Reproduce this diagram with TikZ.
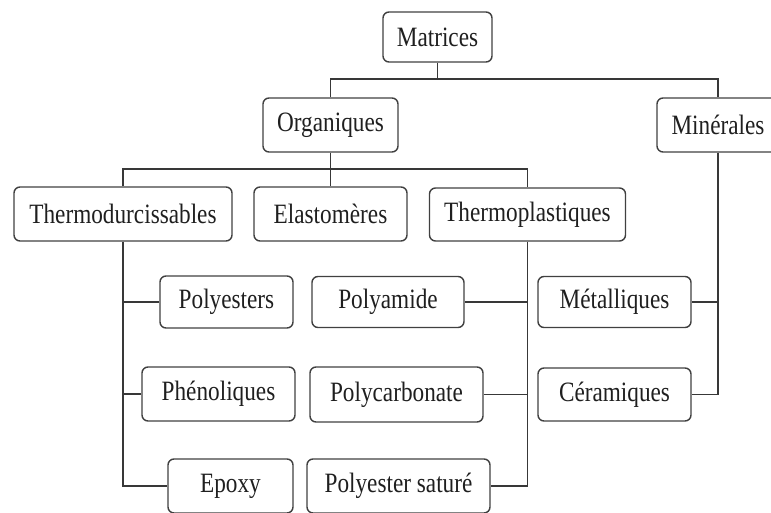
\documentclass[tikz,border=0pt]{standalone}
\usepackage{fontspec}
\setmainfont[FakeStretch=0.83]{Liberation Serif}
\begin{document}
\begin{tikzpicture}[x=1pt,y=-1pt,
  box/.style={draw=black!75, line width=1.4pt, rounded corners=6pt, inner sep=0pt,
    text=black!88, font=\fontsize{28}{30}\selectfont, anchor=center},
  link/.style={draw=black!78, line width=1.8pt}]
\useasboundingbox (0,0) rectangle (771,513);
\clip (0,0) rectangle (771,513);
\node[box, minimum width=109pt, minimum height=50pt] (mat) at (437.5,37) {Matrices};
\node[box, minimum width=135pt, minimum height=54pt] (org) at (330.5,125) {Organiques};
\node[box, minimum width=122pt, minimum height=54pt] (min) at (718,125) {Minérales};
\node[box, minimum width=218pt, minimum height=54pt] (thd) at (123,214) {Thermodurcissables};
\node[box, minimum width=153pt, minimum height=54pt] (ela) at (330.5,214) {Elastomères};
\node[box, minimum width=196pt, minimum height=53pt] (thp) at (527.5,214.5) {Thermoplastiques};
\node[box, minimum width=133pt, minimum height=52pt] (pes) at (226.5,302) {Polyesters};
\node[box, minimum width=153pt, minimum height=54pt] (phe) at (218.5,394) {Phénoliques};
\node[box, minimum width=125pt, minimum height=54pt] (epo) at (230.5,486) {Epoxy};
\node[box, minimum width=152pt, minimum height=51pt] (pam) at (388,302) {Polyamide};
\node[box, minimum width=173pt, minimum height=55pt] (pca) at (396.5,394.5) {Polycarbonate};
\node[box, minimum width=183pt, minimum height=54pt] (psa) at (398.5,486) {Polyester saturé};
\node[box, minimum width=153pt, minimum height=51pt] (met) at (614.5,302) {Métalliques};
\node[box, minimum width=153pt, minimum height=53pt] (cer) at (614.5,394.5) {Céramiques};
\coordinate (b1) at (437.5,79);
\coordinate (b2) at (330.5,169);
% level 1
\draw[link] (mat.south) -- (mat.south |- b1);
\draw[link] (org.north) -- (org.north |- b1) -- (min.north |- b1) -- (min.north);
% level 2
\draw[link] (org.south) -- (org.south |- b2);
\draw[link] (thd.north) -- (thd.north |- b2) -- (thp.north |- b2) -- (thp.north);
\draw[link] (ela.north) -- (ela.north |- b2);
% thermodurcissables
\draw[link] (thd.south) -- (thd.south |- epo.west) -- (epo.west);
\draw[link] (thd.south |- pes.west) -- (pes.west);
\draw[link] (thd.south |- phe.west) -- (phe.west);
% thermoplastiques
\draw[link] (thp.south) -- (thp.south |- psa.east) -- (psa.east);
\draw[link] (thp.south |- pam.east) -- (pam.east);
\draw[link] (thp.south |- pca.east) -- (pca.east);
% minerales
\draw[link] (min.south) -- (min.south |- cer.east) -- (cer.east);
\draw[link] (min.south |- met.east) -- (met.east);
\end{tikzpicture}
\end{document}
